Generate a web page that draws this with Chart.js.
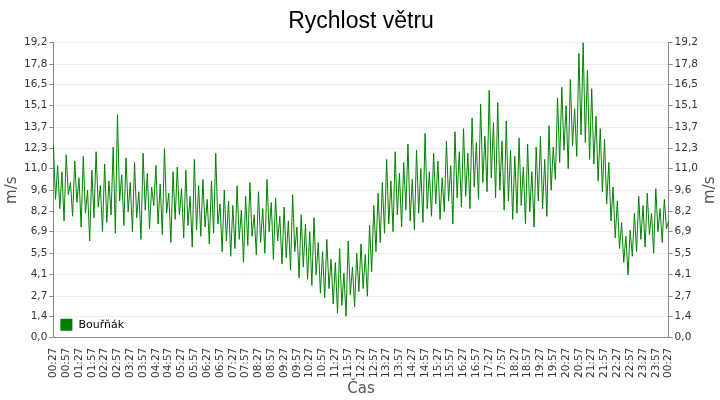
<!DOCTYPE html>
<html>
<head>
<meta charset="utf-8">
<script src="https://cdn.jsdelivr.net/npm/chart.js@4"></script>
<style>
  body { margin: 0; background: #fff; }
  #wrap { width: 720px; height: 400px; }
</style>
</head>
<body>
<div id="wrap"><canvas id="windChart"></canvas></div>
<script>
// Rychlost větru - Bouřňák, vzorek každých 5 minut od 00:27
const seriesName = 'Bouřňák';
const windSpeed = [
    12.5,9.0,11.2,8.4,10.8,7.6,11.9,9.3,10.1,7.9,11.5,8.8,
    10.4,7.2,11.8,8.1,9.6,6.3,10.9,7.8,12.1,8.5,9.9,6.9,
    11.3,7.5,10.2,8.0,12.4,6.8,14.5,8.9,10.6,7.3,11.7,8.2,
    10.1,6.9,11.4,7.8,9.5,6.4,12.0,8.3,10.7,7.1,9.8,8.6,
    11.2,7.4,10.0,6.7,12.3,8.1,9.4,6.2,10.8,7.7,11.1,8.0,
    9.7,6.5,10.9,7.3,9.2,5.9,11.6,7.0,9.9,6.6,10.3,7.2,
    9.0,6.1,10.2,6.8,12.0,7.4,8.7,5.6,9.6,6.3,8.9,5.3,
    8.6,5.8,9.9,6.4,8.3,4.9,9.2,6.0,10.1,6.6,8.0,5.4,
    9.5,6.2,8.4,5.5,10.3,6.9,8.8,5.1,9.1,6.3,7.9,4.8,
    8.5,5.2,7.6,4.4,9.3,5.6,7.2,3.9,8.0,4.6,7.4,3.8,
    6.9,3.4,7.8,4.1,6.2,2.9,5.6,2.6,6.4,3.2,5.1,2.2,
    4.9,1.6,5.8,2.1,4.2,1.4,6.3,2.8,4.6,2.0,5.5,3.0,
    6.1,3.2,5.4,2.7,7.3,4.3,8.6,5.6,9.4,6.2,10.1,6.8,
    11.6,7.4,10.2,6.9,12.1,8.0,10.7,7.2,11.4,8.3,12.6,7.6,
    10.3,7.0,12.2,8.1,11.0,7.5,13.3,8.4,10.8,7.9,12.0,8.7,
    11.5,7.7,10.4,8.2,12.8,8.9,11.2,7.4,13.4,9.1,12.1,8.5,
    13.6,9.2,12.0,8.4,14.3,9.8,12.7,9.0,15.2,10.1,13.1,9.5,
    16.1,10.4,14.0,9.1,15.3,9.6,12.8,8.3,14.1,8.9,12.2,7.7,
    11.8,8.1,13.0,8.6,11.1,7.4,12.6,8.2,10.8,7.2,12.4,8.9,
    13.1,8.4,11.6,7.9,13.8,9.6,12.4,10.3,15.6,11.4,16.3,12.2,
    15.1,11.0,16.8,12.5,14.9,11.8,18.5,13.2,19.2,12.7,17.4,11.6,
    16.2,11.3,14.4,10.2,13.6,9.5,12.9,8.7,11.4,7.6,9.8,6.5,
    8.9,5.8,7.5,4.9,6.6,4.1,7.0,5.3,8.1,5.6,9.2,6.4,
    8.6,5.9,9.4,6.7,8.1,5.5,9.7,6.9,8.4,6.2,9.0,7.1,
    7.6
];
const yTicks = [0, 1.4, 2.7, 4.1, 5.5, 6.9, 8.2, 9.6, 11.0, 12.3, 13.7, 15.1, 16.5, 17.8, 19.2];

// popisky času po 5 minutách, zobrazují se jen :27 a :57
const timeLabels = windSpeed.map((v, i) => {
    const m = (27 + i * 5) % 1440;
    const hh = String(Math.floor(m / 60) % 24).padStart(2, '0');
    const mm = String(m % 60).padStart(2, '0');
    return hh + ':' + mm;
});

const fmt = v => v.toFixed(1).replace('.', ',');
const fixTicks = axis => { axis.ticks = yTicks.map(v => ({ value: v })); };

// legenda v grafu a titulky os m/s (obě čtené zdola nahoru)
const overlayPlugin = {
    id: 'overlay',
    afterDraw(chart) {
        const a = chart.chartArea, c = chart.ctx;
        c.save();
        c.fillStyle = '#008000';
        c.fillRect(a.left + 7, a.bottom - 19, 12, 12);
        c.fillStyle = '#000';
        c.font = '11px "DejaVu Sans", sans-serif';
        c.textBaseline = 'middle';
        c.fillText(seriesName, a.left + 25, a.bottom - 13);
        c.fillStyle = '#555';
        c.font = '15px "DejaVu Sans", sans-serif';
        c.textAlign = 'center';
        const mid = (a.top + a.bottom) / 2;
        [12, chart.width - 10].forEach(x => {
            c.save();
            c.translate(x, mid);
            c.rotate(-Math.PI / 2);
            c.fillText('m/s', 0, 0);
            c.restore();
        });
        c.restore();
    }
};

const tickFont = { family: 'DejaVu Sans', size: 10.5 };

new Chart(document.getElementById('windChart'), {
    type: 'line',
    data: {
        labels: timeLabels,
        datasets: [{
            label: seriesName,
            data: windSpeed,
            borderColor: '#008000',
            borderWidth: 1,
            pointRadius: 0,
            tension: 0
        }]
    },
    options: {
        responsive: true,
        maintainAspectRatio: false,
        animation: false,
        layout: { padding: { left: 22, right: 20, top: 0, bottom: 2 } },
        plugins: {
            legend: { display: false },
            tooltip: { enabled: false },
            title: {
                display: true,
                text: 'Rychlost větru',
                color: '#000',
                font: { family: 'Liberation Sans', size: 23, weight: 'normal' },
                padding: { top: 8, bottom: 7 }
            }
        },
        scales: {
            x: {
                grid: { display: false },
                border: { color: '#888' },
                title: { display: true, text: 'Čas', color: '#555', font: { family: 'DejaVu Sans', size: 15 }, padding: 0 },
                ticks: {
                    autoSkip: false, maxRotation: 90, minRotation: 90,
                    color: '#333', font: tickFont, padding: 2,
                    callback: function(v, i) { return i % 6 === 0 ? timeLabels[i] : null; }
                }
            },
            y: {
                min: 0, max: 19.2,
                afterBuildTicks: fixTicks,
                grid: { color: '#ececec', tickLength: 4, tickColor: '#888' },
                border: { color: '#888' },
                ticks: { color: '#333', font: tickFont, callback: fmt, padding: 2 }
            },
            y2: {
                position: 'right',
                min: 0, max: 19.2,
                afterBuildTicks: fixTicks,
                grid: { drawOnChartArea: false, tickLength: 4, tickColor: '#888' },
                border: { color: '#888' },
                ticks: { color: '#333', font: tickFont, callback: fmt, padding: 2 }
            }
        }
    },
    plugins: [overlayPlugin]
});
</script>
</body>
</html>
